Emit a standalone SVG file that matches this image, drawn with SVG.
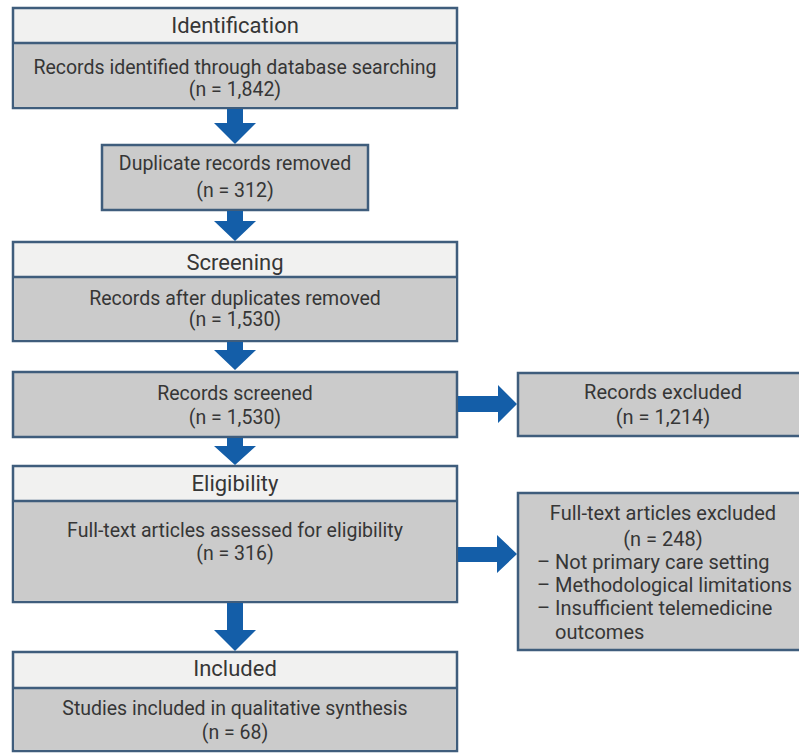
<svg xmlns="http://www.w3.org/2000/svg" width="799" height="753" viewBox="0 0 799 753">
<style>
.box{stroke:#3f5d7c;stroke-width:2.5}
.hdr{fill:#f1f1f0}
.body{fill:#cbcbcb}
.div{stroke:#3f5d7c;stroke-width:2.5}
text{font-family:Roboto,"Liberation Sans",sans-serif;fill:#363636}
.h{font-size:22px;text-anchor:middle}
.t{font-size:19.5px;text-anchor:middle}
.r{font-size:20px;text-anchor:middle}
.l{font-size:20px}
.arr{fill:#145ea8}
</style>
<rect x="0" y="0" width="799" height="753" fill="#ffffff"/>
<g id="identification">
<rect class="box hdr" x="13" y="8" width="444" height="100"/>
<rect class="body" x="14.25" y="43" width="441.5" height="63.75"/>
<line class="div" x1="13" y1="43" x2="457" y2="43"/>
<text class="h" x="235" y="33">Identification</text>
<text class="t" x="235" y="74">Records identified through database searching</text>
<text class="t" x="235" y="96">(n = 1,842)</text>
</g>
<g id="duplicates">
<rect class="box body" x="102" y="145" width="266" height="65"/>
<text class="t" x="235" y="170">Duplicate records removed</text>
<text class="t" x="235" y="197">(n = 312)</text>
</g>
<g id="screening">
<rect class="box hdr" x="13" y="242" width="444" height="99"/>
<rect class="body" x="14.25" y="277" width="441.5" height="62.75"/>
<line class="div" x1="13" y1="277" x2="457" y2="277"/>
<text class="h" x="235" y="270">Screening</text>
<text class="t" x="235" y="305">Records after duplicates removed</text>
<text class="t" x="235" y="326">(n = 1,530)</text>
</g>
<g id="screened">
<rect class="box body" x="13" y="372" width="444" height="65"/>
<text class="t" x="235" y="400">Records screened</text>
<text class="t" x="235" y="424">(n = 1,530)</text>
</g>
<g id="excluded">
<rect class="box body" x="518" y="373" width="292" height="63"/>
<text class="r" x="663" y="399">Records excluded</text>
<text class="r" x="663" y="424">(n = 1,214)</text>
</g>
<g id="eligibility">
<rect class="box hdr" x="13" y="466" width="444" height="136"/>
<rect class="body" x="14.25" y="501" width="441.5" height="99.75"/>
<line class="div" x1="13" y1="501" x2="457" y2="501"/>
<text class="h" x="235" y="491">Eligibility</text>
<text class="t" x="235" y="537">Full-text articles assessed for eligibility</text>
<text class="t" x="235" y="560">(n = 316)</text>
</g>
<g id="fulltext-excluded">
<rect class="box body" x="518" y="493" width="292" height="157"/>
<text class="r" x="663" y="520">Full-text articles excluded</text>
<text class="r" x="663" y="546">(n = 248)</text>
<text class="l" x="537" y="569">– Not primary care setting</text>
<text class="l" x="537" y="592">– Methodological limitations</text>
<text class="l" x="537" y="615">– Insufficient telemedicine</text>
<text class="l" x="555" y="639">outcomes</text>
</g>
<g id="included">
<rect class="box hdr" x="13" y="652" width="444" height="99"/>
<rect class="body" x="14.25" y="688" width="441.5" height="61.75"/>
<line class="div" x1="13" y1="688" x2="457" y2="688"/>
<text class="h" x="235" y="676">Included</text>
<text class="t" x="235" y="715">Studies included in qualitative synthesis</text>
<text class="t" x="235" y="739">(n = 68)</text>
</g>
<g id="connectors">
<polygon class="arr" points="227,109 243,109 243,123 256,123 235,144 214,123 227,123"/>
<polygon class="arr" points="227,211 243,211 243,221 256,221 235,241 214,221 227,221"/>
<polygon class="arr" points="227,342 243,342 243,350 256,350 235,370 214,350 227,350"/>
<polygon class="arr" points="227,438 243,438 243,446 256,446 235,465 214,446 227,446"/>
<polygon class="arr" points="227,603 243,603 243,630 256,630 235,651 214,630 227,630"/>
<polygon class="arr" points="458,396 498,396 498,385 517,404 498,423 498,412 458,412"/>
<polygon class="arr" points="458,547 497,547 497,535 517,554 497,573 497,562 458,562"/>
</g>
</svg>
